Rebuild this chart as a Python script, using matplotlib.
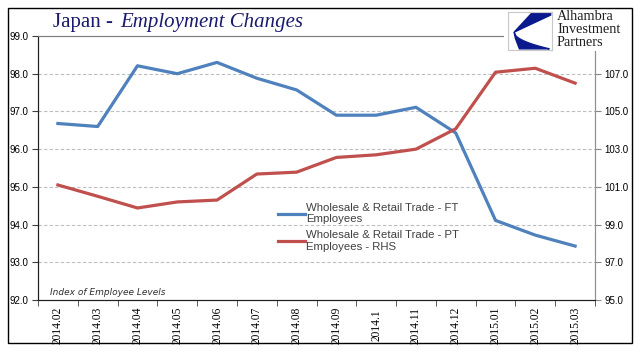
import numpy as np
import matplotlib
matplotlib.use('Agg')
import matplotlib.pyplot as plt
from matplotlib.patches import Rectangle, Polygon

months = ['2014.02', '2014.03', '2014.04', '2014.05', '2014.06', '2014.07', '2014.08',
          '2014.09', '2014.1', '2014.11', '2014.12', '2015.01', '2015.02', '2015.03']
ft_employees = [96.68, 96.6, 98.21, 98.0, 98.3, 97.88, 97.57,
                96.9, 96.9, 97.11, 96.43, 94.11, 93.72, 93.43]
pt_employees = [101.1, 100.5, 99.88, 100.2, 100.3, 101.68, 101.78,
                102.56, 102.7, 103.0, 104.08, 107.08, 107.29, 106.5]
left_ticks = np.arange(92, 99.5, 1.0)
right_ticks = np.arange(95, 108, 2.0)

blue = '#4f81bd'
red = '#c0504d'
W, H = 641, 361

fig = plt.figure(figsize=(W / 100, H / 100), dpi=100)
ax = fig.add_axes([38 / W, 1 - 300 / H, (595 - 38) / W, (300 - 36) / H])
ax2 = ax.twinx()

x = np.arange(len(months))
l1, = ax.plot(x, ft_employees, color=blue, lw=2.3, solid_joinstyle='round',
              label='Wholesale & Retail Trade - FT\nEmployees')
l2, = ax2.plot(x, pt_employees, color=red, lw=2.3, solid_joinstyle='round',
               label='Wholesale & Retail Trade - PT\nEmployees - RHS')

ax.set_xlim(-0.5, len(months) - 0.5)
ax.set_ylim(92, 99)
ax2.set_ylim(95, 109)
ax.set_yticks(left_ticks)
ax.set_yticklabels(['%.1f' % v for v in left_ticks], fontsize=7, family='Liberation Sans')
ax2.set_yticks(right_ticks)
ax2.set_yticklabels(['%.1f' % v for v in right_ticks], fontsize=7, family='Liberation Sans')

# dashed gridlines, not on the frame
for v in left_ticks[1:-1]:
    ax.axhline(v, color='#bdbdbd', lw=0.8, ls=(0, (3, 2)), zorder=0)

ax.set_xticks(x)
ax.set_xticklabels(months, rotation=90, fontsize=8.3, family='Liberation Serif', va='center')
ax.set_xticks(np.arange(-0.5, len(months), 1.0), minor=True)
ax.tick_params(axis='x', which='major', length=0, pad=18)
ax.tick_params(axis='x', which='minor', length=4, color='#404040')
ax.tick_params(axis='y', length=4, color='#404040', pad=3)
ax2.tick_params(axis='y', length=4, color='#888888', pad=3)

for a in (ax, ax2):
    a.spines['top'].set_color('#808080')
    a.spines['left'].set_color('#202020')
    a.spines['bottom'].set_color('#202020')
    a.spines['right'].set_color('#909090')

ax.text(0.022, 0.012, 'Index of Employee Levels', transform=ax.transAxes,
        fontsize=6.5, style='italic', color='#303030', family='DejaVu Sans', va='bottom')

leg = ax.legend(handles=[l1, l2], loc='upper left', bbox_to_anchor=(272 / W, 1 - 197 / H),
                bbox_transform=fig.transFigure, frameon=False,
                prop={'family': 'Liberation Sans', 'size': 8.2},
                handlelength=2.4, handletextpad=0.1, labelspacing=0.5, borderpad=0)
for t in leg.get_texts():
    t.set_color('#404040')

# white mask under logo
fig.patches.append(Rectangle((504 / W, 1 - 51 / H), (631 - 504) / W, (51 - 9) / H,
                             transform=fig.transFigure, facecolor='white',
                             edgecolor='none', zorder=2))
# outer border
fig.patches.append(Rectangle((8 / W, 1 - 343 / H), (632 - 8) / W, (343 - 8) / H,
                             transform=fig.transFigure, facecolor='none',
                             edgecolor='black', lw=1.0, zorder=5))

# logo
lg = fig.add_axes([508 / W, 1 - 50 / H, 44 / W, 38 / H], zorder=4)
lg.set_xlim(0, 1)
lg.set_ylim(0, 1)
lg.set_xticks([])
lg.set_yticks([])
for s in lg.spines.values():
    s.set_color('#c8c8c8')
    s.set_linewidth(0.8)
lg.add_patch(Polygon([(0.54, 0.97), (0.97, 0.97), (0.97, 0.92), (0.14, 0.47)],
                     closed=True, color='#0a1a8c'))
t = np.linspace(0, 1, 30)
cx = 0.14 + 0.8 * t
cy = 0.47 - 0.44 * np.sqrt(t)
lg.add_patch(Polygon(list(zip(cx, cy)) + [(0.26, 0.03), (0.17, 0.3)],
                     closed=True, color='#0a1a8c'))
fig.text(557 / W, 1 - 10 / H, 'Alhambra\nInvestment\nPartners', fontsize=10.3,
         family='Liberation Serif', color='#202020', va='top', ha='left',
         linespacing=1.02, zorder=6)

# title
t1 = fig.text(53 / W, 1 - 27 / H, 'Japan - ', fontsize=15, family='Liberation Serif',
              color='#1a1a6e', va='baseline')
fig.canvas.draw()
bb = t1.get_window_extent()
fig.text(bb.x1 / W + 2 / W, 1 - 27 / H, 'Employment Changes', fontsize=15,
         family='Liberation Serif', style='italic', color='#1a1a6e', va='baseline')

fig.savefig('out.png', dpi=100)
